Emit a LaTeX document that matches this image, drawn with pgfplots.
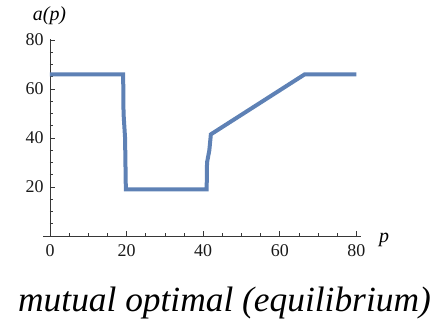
\documentclass[border=0pt]{standalone}
\usepackage{fontspec}
\setmainfont{Liberation Serif}
\usepackage{pgfplots}
\pgfplotsset{compat=1.18}
\definecolor{mblue}{RGB}{94,129,181}
\definecolor{axgray}{RGB}{55,55,55}
\begin{document}
\begin{tikzpicture}
\path[use as bounding box] (0,0) rectangle (440bp,323bp);
\begin{axis}[
  at={(43.1bp,87bp)}, anchor=south west,
  scale only axis, width=318.3bp, height=196.7bp,
  axis lines*=middle,
  xmin=-1.8, xmax=81.3, ymin=0, ymax=80.3,
  xtick={0,20,40,60,80}, ytick={20,40,60,80},
  minor xtick={5,10,15,25,30,35,45,50,55,65,70,75},
  minor ytick={5,10,15,25,30,35,45,50,55,65,70,75},
  tick align=inside,
  major tick length=5bp, minor tick length=3bp,
  tick style={axgray, line width=0.8bp},
  axis line style={axgray, line width=0.9bp},
  hide obscured x ticks=false, hide obscured y ticks=false,
  ticklabel style={font=\fontsize{18}{18}\selectfont, text=black!90},
  xticklabel style={yshift=-5bp},
  yticklabel style={xshift=-3bp},
  /pgf/number format/assume math mode=true,
  clip=false,
]
\addplot[mblue, line width=4bp, line join=miter] coordinates {
 (0,66) (19.1,66) (19.2,50) (19.6,40) (19.8,19) (40.9,19) (41.0,30) (41.6,35) (42.0,41.5) (66.5,66) (80,66)
};
\end{axis}
\node[font=\fontsize{20}{20}\selectfont\itshape] at (49.5bp,307bp) {a(p)};
\node[font=\fontsize{20}{20}\selectfont\itshape] at (384bp,83bp) {p};
\node[font=\fontsize{35.5}{40}\selectfont\itshape, anchor=base] at (224.5bp,12bp) {mutual optimal (equilibrium)};
\end{tikzpicture}
\end{document}
